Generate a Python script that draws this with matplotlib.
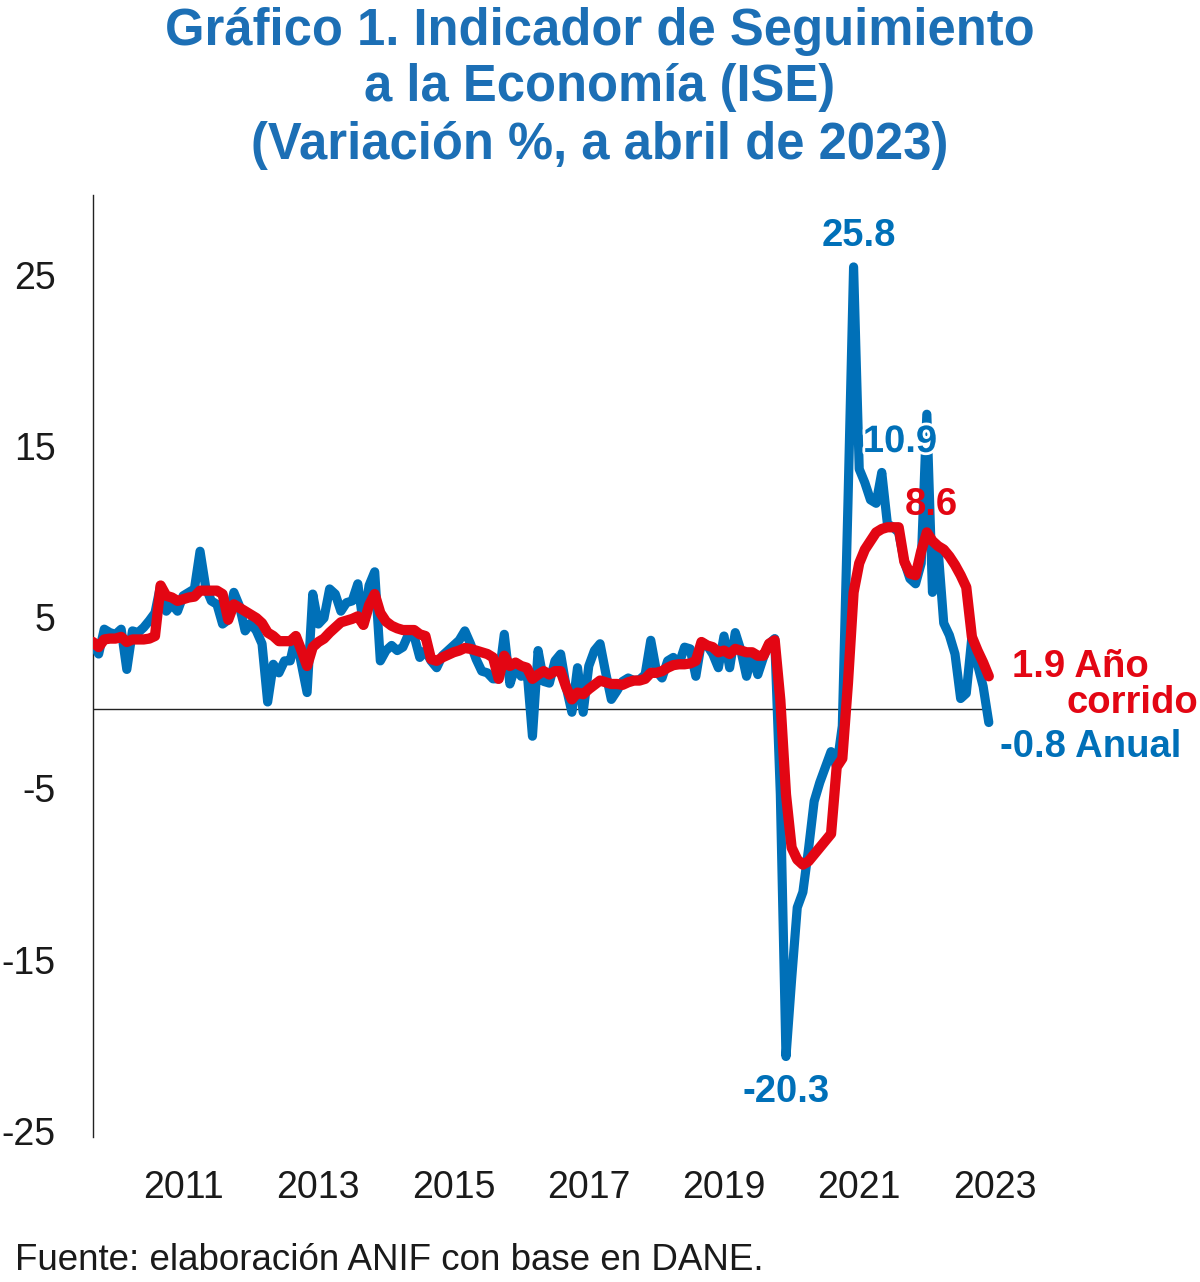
import numpy as np
import pandas as pd
import matplotlib
matplotlib.use("Agg")
import matplotlib.pyplot as plt
import matplotlib.patheffects as pe
from matplotlib.transforms import ScaledTranslation

# monthly series, Jan 2010 .. Apr 2023
months = pd.period_range("2010-01", "2023-04", freq="M")

anual = [
    3.8, 3.2, 4.65, 4.45, 4.35, 4.65, 2.3, 4.55, 4.45, 4.75, 5.15, 5.6,      # 2010
    7.2, 5.7, 6.1, 5.7, 6.6, 6.8, 7.0, 9.2, 7.1, 6.3, 6.1, 4.95,            # 2011
    5.2, 6.8, 6.0, 4.55, 5.0, 4.55, 3.8, 0.4, 2.6, 2.1, 2.8, 2.8,           # 2012
    4.25, 2.6, 0.95, 6.7, 4.95, 5.3, 7.0, 6.7, 5.7, 6.2, 6.3, 7.3,          # 2013
    4.9, 7.2, 8.0, 2.8, 3.4, 3.7, 3.4, 3.6, 4.35, 4.25, 3.0, 3.4,           # 2014
    2.8, 2.4, 3.1, 3.4, 3.7, 4.0, 4.55, 3.8, 2.9, 2.2, 2.1, 1.75,           # 2015
    1.75, 4.35, 1.45, 2.5, 1.9, 2.4, -1.6, 3.4, 1.6, 1.5, 2.8, 3.2,         # 2016
    1.25, -0.2, 2.4, -0.2, 2.5, 3.4, 3.8, 2.1, 0.55, 1.05, 1.6, 1.8,        # 2017
    1.65, 1.7, 2.0, 4.0, 2.2, 1.8, 2.8, 3.0, 2.6, 3.6, 3.5, 1.9,            # 2018
    3.9, 3.7, 3.2, 2.4, 4.25, 2.4, 4.45, 3.4, 1.9, 3.2, 2.0, 3.0,           # 2019
    3.8, 4.1, -5.0, -20.3, -15.8, -11.6, -10.7, -8.2, -5.4, -4.3, -3.4, -2.5,  # 2020
    -3.4, -1.0, 12.0, 25.8, 14.0, 13.2, 12.2, 12.0, 13.8, 10.8, 10.6, 10.3,    # 2021
    8.6, 7.6, 7.3, 8.5, 17.2, 6.8, 9.3, 5.0, 4.3, 3.2, 0.6, 0.9,            # 2022
    4.2, 2.6, 1.3, -0.8,                                                     # 2023
]

corrido = [
    3.9, 3.6, 4.05, 4.1, 4.1, 4.2, 3.9, 4.05, 4.05, 4.05, 4.1, 4.25,
    7.2, 6.6, 6.5, 6.3, 6.4, 6.5, 6.55, 6.9, 6.9, 6.9, 6.9, 6.7,
    5.2, 6.1, 5.9, 5.7, 5.5, 5.3, 5.0, 4.45, 4.25, 3.95, 3.95, 3.95,
    4.25, 3.4, 2.5, 3.6, 3.9, 4.1, 4.45, 4.75, 5.05, 5.15, 5.25, 5.4,
    4.9, 6.05, 6.7, 5.6, 5.1, 4.85, 4.7, 4.6, 4.6, 4.6, 4.35, 4.25,
    2.9, 2.8, 3.0, 3.15, 3.3, 3.4, 3.55, 3.5, 3.4, 3.3, 3.2, 3.0,
    1.75, 3.1, 2.5, 2.7, 2.5, 2.4, 1.75, 2.0, 2.2, 2.0, 2.2, 2.2,
    1.25, 0.55, 0.95, 0.85, 1.15, 1.4, 1.65, 1.55, 1.45, 1.45, 1.4, 1.55,
    1.65, 1.65, 1.75, 2.1, 2.1, 2.2, 2.4, 2.55, 2.6, 2.6, 2.65, 2.8,
    3.9, 3.7, 3.6, 3.3, 3.4, 3.2, 3.5, 3.4, 3.3, 3.3, 3.1, 3.1,
    3.8, 4.0, 0.5, -5.0, -8.1, -8.8, -9.1, -8.9, -8.5, -8.1, -7.7, -7.3,
    -3.4, -2.9, 1.5, 6.8, 8.5, 9.3, 9.8, 10.3, 10.5, 10.6, 10.6, 10.6,
    8.6, 7.9, 7.8, 9.2, 10.3, 9.8, 9.5, 9.3, 8.9, 8.4, 7.8, 7.1,
    4.2, 3.4, 2.7, 1.9,
]

year_labels = ["2011", "2013", "2015", "2017", "2019", "2021", "2023"]
y_ticks = [-25, -15, -5, 5, 15, 25]
title_lines = ["Gráfico 1. Indicador de Seguimiento",
               "a la Economía (ISE)",
               "(Variación %, a abril de 2023)"]

BLUE = "#0070B8"
TITLE_BLUE = "#1C6FB5"
RED = "#E30613"
INK = "#1a1a1a"

plt.rcParams["font.family"] = ["Liberation Sans", "DejaVu Sans"]

W, H = 1200, 1282
fig = plt.figure(figsize=(W / 100, H / 100), dpi=100)


def px(x, y):
    return x / W, 1 - y / H


x = np.arange(len(months))
ax = fig.add_axes([93 / W, 145 / H, (160 * 5.634) / W, 942 / H])

ax.plot(x, anual, color=BLUE, lw=6.6, solid_joinstyle="round",
        solid_capstyle="round", zorder=3)
ax.plot(x, corrido, color=RED, lw=7.4, solid_joinstyle="round",
        solid_capstyle="round", zorder=4)
ax.plot([0, len(x) - 1], [0, 0], color="#222222", lw=1.0, zorder=2)

ax.set_xlim(0, 160)
ax.set_ylim(-25, 30)
ax.set_yticks(y_ticks)
ax.set_yticklabels([str(v) for v in y_ticks])
ax.tick_params(axis="y", length=0, pad=27, labelsize=27, labelcolor=INK)
shift_up = ScaledTranslation(0, 6 / 100, fig.dpi_scale_trans)
for t in ax.get_yticklabels():
    t.set_transform(t.get_transform() + shift_up)
ax.set_xticks([16 + 24 * k for k in range(len(year_labels))])
ax.set_xticklabels(year_labels)
ax.tick_params(axis="x", length=0, pad=24, labelsize=27, labelcolor=INK)
for s in ["top", "right", "bottom"]:
    ax.spines[s].set_visible(False)
ax.spines["left"].set_linewidth(1.0)
ax.spines["left"].set_color("#222222")

# value labels
lbl = dict(fontsize=27.5, fontweight="bold", ha="center", va="center")
fig.text(*px(859, 236), "25.8", color=BLUE, **lbl)
fig.text(*px(786, 1092), "-20.3", color=BLUE, **lbl)
fig.text(*px(900, 442), "10.9", color=BLUE, zorder=10,
         path_effects=[pe.withStroke(linewidth=4, foreground="white")], **lbl)
fig.text(*px(931, 505), "8.6", color=RED, zorder=10, **lbl)

side = dict(fontsize=27.5, fontweight="bold", va="center")
fig.text(*px(1012, 667), "1.9 Año", color=RED, ha="left", **side)
fig.text(*px(1198, 703), "corrido", color=RED, ha="right", **side)
fig.text(*px(1000, 747), "-0.8 Anual", color=BLUE, ha="left", **side)

# title and source
for line, yc in zip(title_lines, [32, 88, 145]):
    fig.text(*px(600, yc), line, color=TITLE_BLUE, fontsize=36.5,
             fontweight="bold", ha="center", va="center")
fig.text(*px(15, 1260), "Fuente: elaboración ANIF con base en DANE.",
         color=INK, fontsize=26.5, ha="left", va="center")

fig.savefig("out.png", dpi=100)
